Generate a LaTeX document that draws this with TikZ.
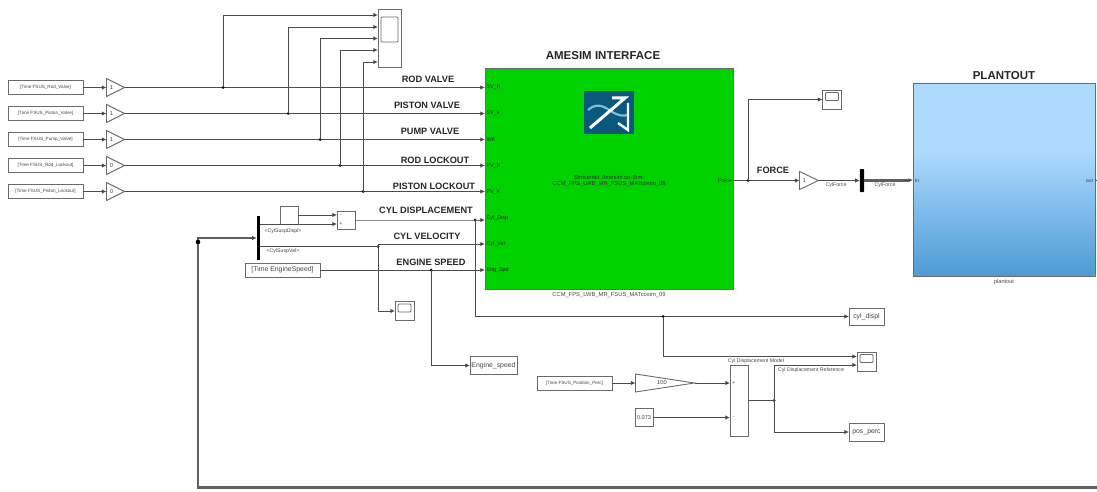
\documentclass[tikz,border=0pt]{standalone}
\usepackage{fontspec}
\setmainfont{Liberation Sans}
\usetikzlibrary{arrows.meta,shapes.geometric,shadows}
\definecolor{wire}{gray}{0.3}
\definecolor{edge}{gray}{0.42}
\definecolor{tagtxt}{gray}{0.28}
\definecolor{simgreen}{RGB}{0,210,0}
\definecolor{icoblue}{RGB}{10,88,125}
\tikzset{
  x=1pt,y=-1pt,
  every node/.style={inner sep=0pt,outer sep=0pt},
  sig/.style={draw=wire,line width=0.9pt,-{Latex[length=4.6pt,width=4.4pt,fill=black]}},
  plain/.style={draw=wire,line width=0.9pt},
  busline/.style={draw=gray!75!black,line width=2.6pt},
  blockbox/.style={draw=edge,line width=0.9pt,fill=white,rectangle,
    drop shadow={shadow xshift=0.8pt,shadow yshift=-0.8pt,fill=gray!60,opacity=1}},
  tagbox/.style={blockbox,minimum width=75pt,minimum height=14pt,font=\fontsize{4.6}{5}\selectfont,text=tagtxt},
  gainbox/.style={draw=edge,line width=0.9pt,fill=white,shape=isosceles triangle,isosceles triangle stretches=true,
    anchor=west,minimum height=18pt,minimum width=18pt,font=\fontsize{5.8}{6}\selectfont,text=tagtxt},
  scopebox/.style={blockbox,minimum width=19pt,minimum height=19pt},
  screen/.style={draw=edge,line width=0.8pt,rounded corners=1pt,fill=white,rectangle},
  junc/.style={circle,fill=black,minimum size=3pt},
  heading/.style={font=\bfseries\fontsize{9.2}{11}\selectfont,text=black!85},
  bigheading/.style={font=\bfseries\fontsize{11.5}{13}\selectfont,text=black!85},
  small/.style={font=\fontsize{5.2}{5.8}\selectfont,text=tagtxt},
  namefont/.style={font=\fontsize{6.9}{8}\selectfont,text=tagtxt},
  port/.style={font=\fontsize{5.4}{6}\selectfont,text=black!85,anchor=west},
}
\begin{document}
\begin{tikzpicture}
\useasboundingbox (0,0) rectangle (1097,492);

% main blocks
\node[draw=edge,line width=1pt,fill=simgreen,rectangle,minimum width=248pt,minimum height=221.5pt] (ame) at (609,179) {};
\node[rectangle,minimum width=182pt,minimum height=192pt] (plant) at (1004,180) {};
\shade[top color={rgb,255:red,173;green,218;blue,255},bottom color={rgb,255:red,173;green,218;blue,255}] (913.5,84.5) rectangle (1094.5,150);
\shade[top color={rgb,255:red,173;green,218;blue,255},bottom color={rgb,255:red,78;green,155;blue,212}] (913.5,150) rectangle (1094.5,275.5);
\draw[edge,line width=1pt] (plant.north west) rectangle (plant.south east);

% icon
\node[fill=icoblue,rectangle,minimum width=50pt,minimum height=43pt] (icon) at (609,112.5) {};
\draw[line width=2.2pt,draw={rgb,255:red,130;green,190;blue,210}] (588,110) .. controls (598,101) and (606,108) .. (614,113) .. controls (620,116) and (624,116) .. (628,115);
\draw[white,line width=3pt] (590,128) -- (625,98) -- (612,98);
\draw[white,line width=2.4pt] (628,103) -- (628,130) -- (618,123);

% titles
\node[bigheading] (t1) at (603,56) {AMESIM INTERFACE};
\node[bigheading] (t2) at (1004,76) {PLANTOUT};
\node[small,font=\fontsize{5.8}{6}\selectfont] (c1) at (609,295) {CCM\_FPS\_LWB\_MR\_FSUS\_MATcosim\_09};
\node[small,font=\fontsize{5.6}{6}\selectfont] (c2) at (1004,282) {plantout};
\node[small,align=center,font=\fontsize{5.8}{5.8}\selectfont,text=black!80] (c3) at (609,181) {Simcenter Amesim co-Sim:\\CCM\_FPS\_LWB\_MR\_FSUS\_MATcosim\_09};

% ports
\node[port] (p1) at (486.5,87.5) {SV\_R};
\node[port] (p2) at (486.5,113.5) {SV\_K};
\node[port] (p3) at (486.5,140) {WK};
\node[port] (p4) at (486.5,166) {PV\_R};
\node[port] (p5) at (486.5,192) {PV\_K};
\node[port] (p6) at (486.5,218.5) {Cyl\_Disp};
\node[port] (p7) at (486.5,244) {Cyl\_Vel};
\node[port] (p8) at (486.5,270.5) {Eng\_Spd};
\node[port,anchor=east] (pf) at (732,181) {Force};
\node[small,anchor=west] (pin) at (915,181) {in};
\node[small,anchor=east] (pout) at (1093,181) {out};

% wire labels
\node[heading] at (428,79) {ROD VALVE};
\node[heading] at (427,105) {PISTON VALVE};
\node[heading] at (430,131) {PUMP VALVE};
\node[heading] at (435,160) {ROD LOCKOUT};
\node[heading] at (434,186) {PISTON LOCKOUT};
\node[heading] at (426,210) {CYL DISPLACEMENT};
\node[heading] at (427,236) {CYL VELOCITY};
\node[heading] at (431,262.5) {ENGINE SPEED};
\node[heading] at (773,170) {FORCE};

% left tags and gains
\node[tagbox] (i1) at (45.5,87.5) {[Time FSUS\_Rod\_Valve]};
\node[tagbox] (i2) at (45.5,113.5) {[Time FSUS\_Piston\_Valve]};
\node[tagbox] (i3) at (45.5,139.5) {[Time FSUS\_Pump\_Valve]};
\node[tagbox] (i4) at (45.5,165.5) {[Time FSUS\_Rod\_Lockout]};
\node[tagbox] (i5) at (45.5,191.5) {[Time FSUS\_Piston\_Lockout]};
\node[gainbox] (g1) at (106.5,87.5) {1};
\node[gainbox] (g2) at (106.5,113.5) {1};
\node[gainbox] (g3) at (106.5,139.5) {1};
\node[gainbox] (g4) at (106.5,165.5) {0};
\node[gainbox] (g5) at (106.5,191.5) {0};
\foreach \k in {1,...,5}{\draw[sig] (i\k.east) -- (g\k.west);}
\draw[sig] (g1.apex) -- (g1.apex -| ame.west);
\draw[sig] (g2.apex) -- (g2.apex -| ame.west);
\draw[sig] (g3.apex) -- (g3.apex -| ame.west);
\draw[sig] (g4.apex) -- (g4.apex -| ame.west);
\draw[sig] (g5.apex) -- (g5.apex -| ame.west);

% top scope
\node[blockbox,minimum width=23pt,minimum height=58pt] (sc) at (389.5,38.5) {};
\node[screen,minimum width=17pt,minimum height=25pt] (scs) at (389.5,29.5) {};
\coordinate (s1) at (378,15);
\coordinate (s2) at (378,27);
\coordinate (s3) at (378,38.5);
\coordinate (s4) at (378,50);
\coordinate (s5) at (378,62);
\node[junc] (j1) at (223,87.5) {};
\node[junc] (j2) at (288,113.5) {};
\node[junc] (j3) at (320,139.5) {};
\node[junc] (j4) at (340,165.5) {};
\node[junc] (j5) at (363,191.5) {};
\draw[sig] (j1.center) |- (s1);
\draw[sig] (j2.center) |- (s2);
\draw[sig] (j3.center) |- (s3);
\draw[sig] (j4.center) |- (s4);
\draw[sig] (j5.center) |- (s5);

% bus selector and feedback
\node[fill=black,rectangle,minimum width=3.6pt,minimum height=44pt] (bus) at (258.5,238) {};
\coordinate (fbr) at (1097,487.5);
\coordinate (fbc) at (198,487.5);
\coordinate (fbt) at (198,238);
\draw[busline] (fbr) -- (fbc) -- (fbt) -- (252,238);
\draw[sig] (250,238) -- (bus.west);
\node[circle,fill=black,minimum size=4.6pt] (fbj) at (198,242) {};

\node[blockbox,minimum width=18pt,minimum height=18pt] (k1) at (289,215) {};
\node[blockbox,minimum width=18pt,minimum height=18pt] (dsum) at (346,220) {};
\node[small,font=\fontsize{5.5}{5}\selectfont] at (341,215.5) {-};
\node[small,font=\fontsize{5.5}{5}\selectfont] at (341,224) {+};
\coordinate (d1) at (337,215);
\coordinate (d2) at (337,224);
\draw[sig] (k1.east |- d1) -- (d1);
\draw[sig] (bus.east |- d2) -- (d2);
\node[small] at (283,231) {<CylSuspDispl>};
\node[small] at (283,251) {<CylSuspVel>};

% cyl disp
\node[junc] (j6) at (475,220) {};
\draw[sig] (dsum.east) -- (j6.center) -- (ame.west |- j6);
\node[blockbox,minimum width=35pt,minimum height=17pt,namefont] (o1) at (866.5,316.5) {cyl\_displ};
\draw[sig] (j6.center) |- (o1.west);
\node[junc] (j7) at (663,316.5) {};
\node[scopebox] (sc3) at (866.5,361.5) {};
\node[screen,minimum width=13pt,minimum height=8pt] (sc3s) at (866.5,358.5) {};
\coordinate (sc3a) at (857,356.5);
\coordinate (sc3b) at (857,365);
\draw[sig] (j7.center) |- (sc3a);

% cyl vel
\node[junc] (j8) at (378,246.5) {};
\draw[plain] (bus.east |- j8) -- (j8.center);
\draw[sig] (j8.center) |- (ame.west |- p7);
\node[scopebox] (sc2) at (404.5,311) {};
\node[screen,minimum width=13pt,minimum height=8pt] (sc2s) at (404.5,308) {};
\draw[sig] (j8.center) |- (sc2.west);

% engine speed
\node[blockbox,minimum width=75pt,minimum height=14pt,namefont] (es) at (282.5,270) {[Time EngineSpeed]};
\draw[sig] (es.east) -- (ame.west |- es);
\node[junc] (j9) at (431,270) {};
\node[blockbox,minimum width=47pt,minimum height=18pt,namefont] (o2) at (493.5,365.5) {Engine\_speed};
\draw[sig] (j9.center) |- (o2.west);

% force
\node[gainbox,minimum height=19pt] (gf) at (799.5,180.5) {1};
\draw[sig] (ame.east |- gf) -- (gf.west);
\node[junc] (j10) at (748,180.5) {};
\node[scopebox] (sc4) at (832,99.5) {};
\node[screen,minimum width=13pt,minimum height=8pt] (sc4s) at (832,96.5) {};
\draw[sig] (j10.center) |- (sc4.west);
\node[fill=black,rectangle,minimum width=4.4pt,minimum height=23pt,rounded corners=0.8pt] (mx) at (862,180.5) {};
\draw[sig] (gf.apex) -- (mx.west);
\draw[busline] (mx.east) -- (908,180.5);
\draw[sig] (904,180.5) -- (plant.west);
\node[small] at (836,185.5) {CylForce};
\node[small] at (885,185.5) {CylForce};
\coordinate (pe) at (1097,180.5);
\draw[plain] (plant.east) -- (pe);

% position percent
\node[tagbox] (i6) at (574.5,383) {[Time,FSUS\_Position\_Perc]};
\node[gainbox,minimum height=59pt] (g6) at (635.5,383) {};
\node[small,font=\fontsize{5.8}{6}\selectfont] (g6t) at (662,383) {100};
\draw[sig] (i6.east) -- (g6.west);
\node[blockbox,minimum width=18pt,minimum height=18pt,font=\fontsize{5.6}{6}\selectfont,text=tagtxt] (k2) at (644,417.5) {0.073};
\node[blockbox,minimum width=18pt,minimum height=71pt] (psum) at (739,400.5) {};
\node[small] at (734,383) {+};
\node[small] at (734,417.5) {-};
\draw[sig] (g6.apex) -- (psum.west |- g6.apex);
\draw[sig] (k2.east) -- (psum.west |- k2.east);
\node[small] at (756,361) {Cyl Displacement Model};
\node[small] at (811,370) {Cyl Displacement Reference};
\node[junc] (j11) at (774,400.5) {};
\draw[plain] (psum.east) -- (j11.center);
\draw[sig] (j11.center) |- (sc3b);
\node[blockbox,minimum width=35pt,minimum height=18pt,namefont] (o3) at (866.5,432) {pos\_perc};
\draw[sig] (j11.center) |- (o3.west);
\end{tikzpicture}
\end{document}
